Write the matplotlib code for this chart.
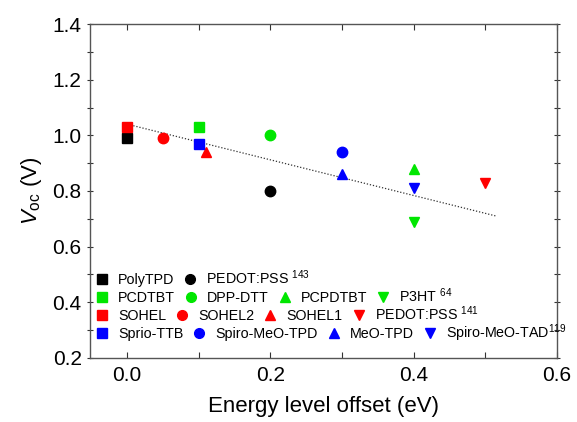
import matplotlib
matplotlib.use('Agg')
import matplotlib.pyplot as plt
from matplotlib.ticker import MultipleLocator, FormatStrFormatter
from matplotlib.lines import Line2D
from matplotlib.legend import Legend

plt.rcParams['font.family'] = ['Liberation Sans', 'DejaVu Sans']
plt.rcParams['mathtext.fontset'] = 'custom'
plt.rcParams['mathtext.rm'] = 'Liberation Sans'
plt.rcParams['mathtext.it'] = 'Liberation Sans:italic'

# 数据：每一行图例对应一组材料
row_colors = ['#000000', '#00e600', '#ff0000', '#0000ff']
row_markers = [['s', 'o'],
               ['s', 'o', '^', 'v'],
               ['s', 'o', '^', 'v'],
               ['s', 'o', '^', 'v']]
row_labels = [['PolyTPD', 'PEDOT:PSS $^{143}$'],
              ['PCDTBT', 'DPP-DTT', 'PCPDTBT', 'P3HT $^{64}$'],
              ['SOHEL', 'SOHEL2', 'SOHEL1', 'PEDOT:PSS $^{141}$'],
              ['Sprio-TTB', 'Spiro-MeO-TPD', 'MeO-TPD', 'Spiro-MeO-TAD$^{119}$']]
row_x = [[0.0, 0.2],
         [0.1, 0.2, 0.4, 0.4],
         [0.0, 0.05, 0.11, 0.5],
         [0.1, 0.3, 0.3, 0.4]]
row_y = [[0.99, 0.80],
         [1.03, 1.00, 0.88, 0.69],
         [1.03, 0.99, 0.94, 0.83],
         [0.97, 0.94, 0.86, 0.81]]

# 线性拟合线端点
fit_x = [0.0, 0.515]
fit_y = [1.04, 0.71]

fig = plt.figure(figsize=(5.77, 4.22), dpi=100)
ax = fig.add_axes([0.156, 0.152, 0.809, 0.791])

ax.plot(fit_x, fit_y, linestyle=(0, (1, 1.5)), color='#333333', linewidth=0.9, zorder=1)

for color, markers, xs, ys in zip(row_colors, row_markers, row_x, row_y):
    for m, x, y in zip(markers, xs, ys):
        ax.plot(x, y, marker=m, color=color, markersize=7.5, linestyle='none', zorder=3)

ax.set_xlim(-0.052, 0.6)
ax.set_ylim(0.2, 1.4)
ax.xaxis.set_major_locator(MultipleLocator(0.2))
ax.xaxis.set_minor_locator(MultipleLocator(0.1))
ax.yaxis.set_major_locator(MultipleLocator(0.2))
ax.yaxis.set_minor_locator(MultipleLocator(0.1))
ax.xaxis.set_major_formatter(FormatStrFormatter('%.1f'))
ax.yaxis.set_major_formatter(FormatStrFormatter('%.1f'))
ax.tick_params(axis='both', which='both', direction='in', top=True, right=True,
               length=4, width=0.8, color='#333333', labelsize=15)
ax.tick_params(axis='x', which='both', pad=6)
ax.tick_params(axis='y', which='both', left=True, direction='inout', pad=4)
for sp in ax.spines.values():
    sp.set_color('#555555')
    sp.set_linewidth(1.0)

ax.set_xlabel('Energy level offset (eV)', fontsize=16, labelpad=8)
ax.set_ylabel('$V_{\\mathrm{oc}}$ (V)', fontsize=16, labelpad=6)

# 图例：每行一个无边框图例
row_pos = [0.240, 0.186, 0.132, 0.075]
for color, markers, labels, ypos in zip(row_colors, row_markers, row_labels, row_pos):
    handles = [Line2D([], [], marker=m, color=color, linestyle='none', markersize=7)
               for m in markers]
    leg = Legend(ax, handles, labels, loc='center left', bbox_to_anchor=(0.0135, ypos),
                 ncol=len(labels), frameon=False, fontsize=10.3,
                 handlelength=0.8, handletextpad=0.72, columnspacing=0.72,
                 borderpad=0, borderaxespad=0)
    ax.add_artist(leg)

fig.savefig('out.png', dpi=100)
